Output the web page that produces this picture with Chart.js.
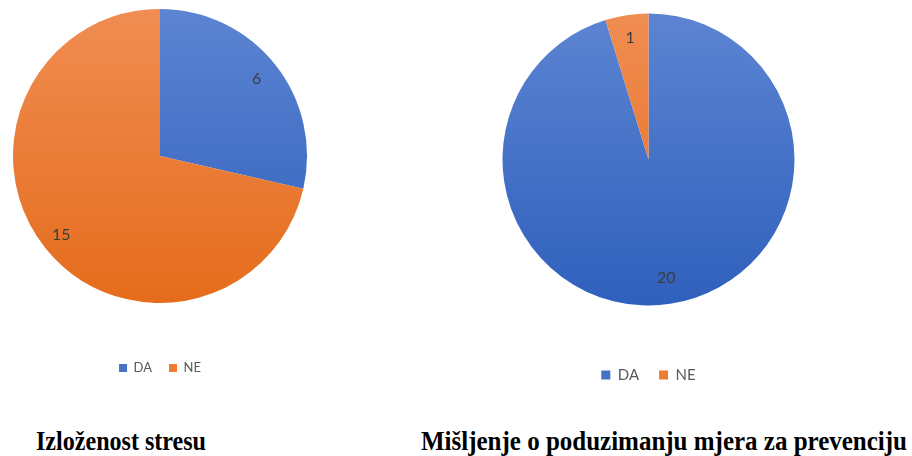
<!DOCTYPE html>
<html>
<head>
<meta charset="utf-8">
<script src="https://cdn.jsdelivr.net/npm/chart.js@4"></script>
<style>
  html, body { margin: 0; padding: 0; background: #ffffff; }
  body { width: 912px; height: 456px; position: relative; overflow: hidden; }
  .wrap { position: absolute; }
  .title { position: absolute; font-family: "Liberation Serif", "DejaVu Serif", serif; font-weight: bold; font-size: 28px; color: #000; white-space: nowrap; transform-origin: 0 0; line-height: 1; }
</style>
</head>
<body>
<div class="wrap" id="w1" style="left:0px;top:0px;width:318px;height:390px;"><canvas id="c1"></canvas></div>
<div class="wrap" id="w2" style="left:490px;top:0px;width:320px;height:400px;"><canvas id="c2"></canvas></div>
<div class="title" id="t1" style="left:36px;top:427px;">Izloženost stresu</div>
<div class="title" id="t2" style="left:421px;top:427px;">Mišljenje o poduzimanju mjera za prevenciju</div>
<script>
const categories = ["DA", "NE"];
const stressValues = [6, 15];
const preventionValues = [20, 1];
const chartTitles = ["Izloženost stresu", "Mišljenje o poduzimanju mjera za prevenciju"];

function grad(ctx, area, top, bottom) {
  if (!area) return bottom;
  const g = ctx.createLinearGradient(0, area.top, 0, area.bottom);
  g.addColorStop(0, top);
  g.addColorStop(1, bottom);
  return g;
}
function sliceColors(context) {
  const chart = context.chart;
  const area = chart.chartArea;
  const i = context.dataIndex;
  if (i === 0) return grad(chart.ctx, area, '#5c84d2', '#2f60bc');
  return grad(chart.ctx, area, '#f08d52', '#e56c1c');
}

const valueLabels = {
  id: 'valueLabels',
  afterDatasetsDraw(chart, args, opts) {
    const ctx = chart.ctx;
    const meta = chart.getDatasetMeta(0);
    ctx.save();
    ctx.fillStyle = '#3c3c3c';
    ctx.font = opts.size + 'px Lato, "Open Sans", sans-serif';
    ctx.textAlign = 'center';
    ctx.textBaseline = 'middle';
    meta.data.forEach((arc, i) => {
      const p = arc.getProps(['x', 'y', 'startAngle', 'endAngle', 'outerRadius'], true);
      const mid = (p.startAngle + p.endAngle) / 2;
      const r = p.outerRadius * opts.frac[i];
      ctx.fillText(String(chart.data.datasets[0].data[i]), p.x + Math.cos(mid) * r, p.y + Math.sin(mid) * r);
    });
    ctx.restore();
  }
};

function makePie(id, values, cfg) {
  return new Chart(document.getElementById(id), {
    type: 'pie',
    data: {
      labels: categories,
      datasets: [{ data: values, backgroundColor: sliceColors, borderWidth: 0 }]
    },
    options: {
      responsive: true,
      maintainAspectRatio: false,
      animation: false,
      layout: { padding: cfg.padding },
      plugins: {
        tooltip: { enabled: false },
        valueLabels: { size: cfg.labelSize, frac: cfg.frac },
        legend: {
          position: 'bottom',
          title: { display: true, text: ' ', font: { size: 12 }, padding: { top: cfg.titlePad, bottom: 0 } },
          labels: {
            boxWidth: cfg.box, boxHeight: cfg.box,
            padding: cfg.legendPad,
            color: '#595959',
            font: { size: cfg.fontSize, family: 'Lato, "Open Sans", sans-serif' },
            generateLabels(chart) {
              const cols = ['#4472c4', '#ed7d31'];
              return chart.data.labels.map((l, i) => ({ text: l, fillStyle: cols[i], strokeStyle: cols[i], lineWidth: 0, index: i, fontColor: '#595959' }));
            }
          }
        }
      }
    },
    plugins: [valueLabels]
  });
}

// legend height = 14.4 + titlePad + legendPad + fontSize + 10
makePie('c1', stressValues, {
  padding: { left: 13, right: 11, top: 9, bottom: 390 - 9 - 294 - (14.4 + 27.1 + 17 + 13 + 10) },
  titlePad: 27.1, legendPad: 17, fontSize: 13, box: 8, labelSize: 16, frac: [0.84, 0.86]
});
makePie('c2', preventionValues, {
  padding: { left: 12.5, right: 15.5, top: 13.5, bottom: 400 - 13.5 - 292 - (14.4 + 27.6 + 20 + 15 + 10) },
  titlePad: 27.6, legendPad: 20, fontSize: 15, box: 9, labelSize: 16, frac: [0.82, 0.84]
});

[['t1', 170], ['t2', 486]].forEach(([id, w]) => {
  const el = document.getElementById(id);
  const actual = el.getBoundingClientRect().width;
  el.style.transform = 'scaleX(' + (w / actual) + ')';
});
</script>
</body>
</html>
